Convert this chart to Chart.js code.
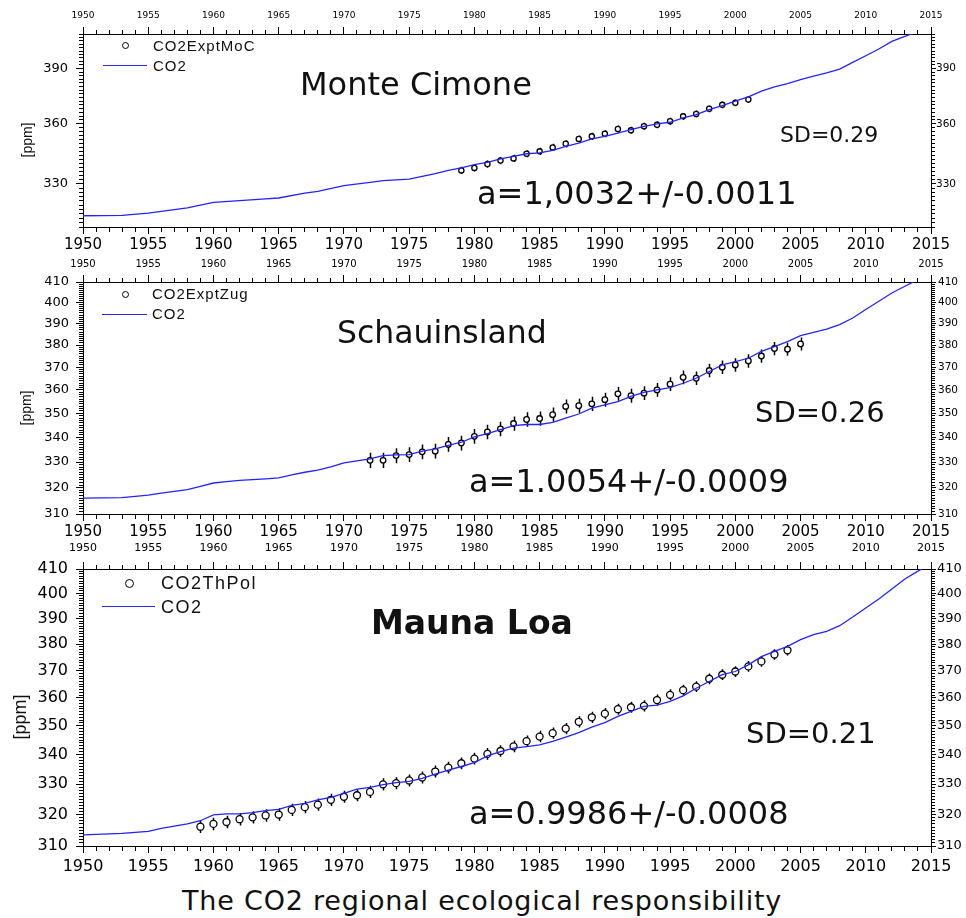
<!DOCTYPE html>
<html lang="en">
<head>
<meta charset="UTF-8">
<title>The CO2 regional ecological responsibility</title>
<script src="https://cdn.jsdelivr.net/npm/chart.js"></script>
<style>
  body { margin: 0; background: #fff; }
  #page { position: relative; width: 966px; height: 918px; background: #fff; overflow: hidden; }
  .panel { position: absolute; left: 0; width: 966px; }
  .txt { position: absolute; white-space: nowrap; font-family: 'DejaVu Sans', sans-serif; color: #111; }
  .leg { position: absolute; white-space: nowrap; font-family: 'Liberation Sans', Arial, sans-serif; color: #111; }
  .dot { position: absolute; border: 1.3px solid #000; border-radius: 50%; background: #fff; box-sizing: border-box; }
  .lline { position: absolute; height: 0; border-top: 1.5px solid #2a2aff; }
  .ylab { position: absolute; white-space: nowrap; font-family: 'Liberation Sans', Arial, sans-serif; color: #111;
          transform: translate(-50%, -50%) rotate(-90deg); }
</style>
</head>
<body>
<div id="page">
  <div class="panel" style="top:0;height:256px"><canvas id="moc"></canvas></div>
  <div class="panel" style="top:256px;height:286px"><canvas id="sch"></canvas></div>
  <div class="panel" style="top:542px;height:340px"><canvas id="mlo"></canvas></div>

  <!-- Monte Cimone -->
  <div class="ylab" style="left:27px;top:140px;font-size:14px">[ppm]</div>
  <div class="dot" style="left:121.5px;top:42px;width:7px;height:7px"></div>
  <div class="leg" style="left:153px;top:35.5px;font-size:15px;line-height:20px;letter-spacing:1px">CO2ExptMoC</div>
  <div class="lline" style="left:103px;top:65px;width:44px"></div>
  <div class="leg" style="left:153px;top:55.5px;font-size:15px;line-height:20px;letter-spacing:1px">CO2</div>
  <div class="txt" style="left:300px;top:64px;font-size:32px;line-height:40px">Monte Cimone</div>
  <div class="txt" style="left:780px;top:121px;font-size:22px;line-height:28px">SD=0.29</div>
  <div class="txt" style="left:477px;top:173px;font-size:32px;line-height:40px">a=1,0032+/-0.0011</div>

  <!-- Schauinsland -->
  <div class="ylab" style="left:26px;top:408px;font-size:14px">[ppm]</div>
  <div class="dot" style="left:121.5px;top:290.5px;width:7px;height:7px"></div>
  <div class="leg" style="left:152px;top:284px;font-size:15px;line-height:20px;letter-spacing:1px">CO2ExptZug</div>
  <div class="lline" style="left:102px;top:313.5px;width:45px"></div>
  <div class="leg" style="left:152px;top:304px;font-size:15px;line-height:20px;letter-spacing:1px">CO2</div>
  <div class="txt" style="left:337px;top:312px;font-size:31.5px;line-height:40px">Schauinsland</div>
  <div class="txt" style="left:755px;top:394px;font-size:29px;line-height:36px">SD=0.26</div>
  <div class="txt" style="left:469px;top:461px;font-size:32px;line-height:40px">a=1.0054+/-0.0009</div>

  <!-- Mauna Loa -->
  <div class="ylab" style="left:20px;top:717px;font-size:18px">[ppm]</div>
  <div class="dot" style="left:124.5px;top:578.5px;width:9px;height:9px"></div>
  <div class="leg" style="left:161px;top:571px;font-size:18px;line-height:24px;letter-spacing:1.5px">CO2ThPol</div>
  <div class="lline" style="left:102px;top:606px;width:53px"></div>
  <div class="leg" style="left:161px;top:595px;font-size:18px;line-height:24px;letter-spacing:1.5px">CO2</div>
  <div class="txt" style="left:371px;top:602px;font-size:33px;line-height:42px;font-weight:bold">Mauna Loa</div>
  <div class="txt" style="left:746px;top:715px;font-size:29px;line-height:36px">SD=0.21</div>
  <div class="txt" style="left:469px;top:793px;font-size:32px;line-height:40px">a=0.9986+/-0.0008</div>

  <div class="txt" style="left:182px;top:884px;font-size:27px;line-height:34px;letter-spacing:0.8px">The CO2 regional ecological responsibility</div>
</div>

<script>
    // Axis labels
    const yearLabels = [1950, 1955, 1960, 1965, 1970, 1975, 1980, 1985, 1990, 1995, 2000, 2005, 2010, 2015];
    const ppmLabelsMoC = [330, 360, 390];
    const ppmLabels = [310, 320, 330, 340, 350, 360, 370, 380, 390, 400, 410];

    // Monte Cimone
    const mocYears = [1979, 1980, 1981, 1982, 1983, 1984, 1985, 1986, 1987, 1988, 1989, 1990,
                      1991, 1992, 1993, 1994, 1995, 1996, 1997, 1998, 1999, 2000, 2001];
    const mocObs = [336.5, 337.7, 339.6, 341.3, 342.4, 344.7, 345.9, 347.9, 349.7, 352.2, 353.5, 354.9,
                    357.3, 356.6, 358.7, 359.5, 361.3, 363.9, 365.2, 367.9, 370.0, 371.1, 372.9];
    const mocLineYears = [1950, 1953, 1955, 1957, 1958, 1960, 1962, 1964, 1965, 1967, 1968, 1970, 1972, 1973,
                          1975, 1976, 1977, 1978, 1979, 1980, 1981, 1982, 1983, 1984, 1985, 1986, 1987, 1988,
                          1989, 1990, 1991, 1992, 1993, 1994, 1995, 1996, 1997, 1998, 1999, 2000, 2001, 2002,
                          2003, 2004, 2005, 2006, 2007, 2008, 2009, 2010, 2011, 2012, 2013, 2014];
    const mocModel = [315.1, 315.3, 316.3, 317.9, 318.7, 321.3, 322.1, 322.9, 323.3, 325.6, 326.4, 329.1, 330.7, 331.5,
                      332.3, 333.6, 334.9, 336.5, 337.7, 339.3, 340.4, 342.1, 343.4, 344.7, 345.1, 346.4, 348.4, 350.1,
                      352.2, 353.5, 355.2, 357.0, 358.7, 359.9, 360.8, 363.1, 364.8, 367.5, 369.6, 372.0, 374.3, 377.4,
                      379.8, 381.6, 383.8, 385.7, 387.5, 389.7, 393.5, 397.3, 401.2, 405.6, 408.6, 411.5];

    // Schauinsland
    const schYears = [1972, 1973, 1974, 1975, 1976, 1977, 1978, 1979, 1980, 1981, 1982, 1983, 1984, 1985, 1986,
                      1987, 1988, 1989, 1990, 1991, 1992, 1993, 1994, 1995, 1996, 1997, 1998, 1999, 2000, 2001,
                      2002, 2003, 2004, 2005];
    const schObs = [330.7, 330.7, 332.6, 333.0, 334.1, 334.4, 337.1, 337.7, 340.4, 342.2, 343.5, 345.7, 347.4, 347.8, 349.4,
                    352.9, 353.2, 354.0, 355.8, 358.3, 357.5, 358.6, 360.0, 362.5, 365.5, 365.1, 368.5, 370.0, 371.0, 372.8,
                    375.0, 378.4, 378.1, 380.5];
    const schLineYears = [1950, 1953, 1955, 1956, 1957, 1958, 1959, 1960, 1961, 1962, 1963, 1964, 1965, 1966, 1967,
                          1968, 1969, 1970, 1971, 1972, 1973, 1974, 1975, 1976, 1977, 1978, 1979, 1980, 1981, 1982,
                          1983, 1984, 1985, 1986, 1987, 1988, 1989, 1990, 1991, 1992, 1993, 1994, 1995, 1996, 1997,
                          1998, 1999, 2000, 2001, 2002, 2003, 2004, 2005, 2006, 2007, 2008, 2009, 2010, 2011, 2012,
                          2013, 2014];
    const schModel = [316.0, 316.2, 317.1, 317.9, 318.6, 319.2, 320.5, 321.8, 322.3, 322.8, 323.1, 323.4, 323.8, 325.0, 326.0,
                      326.8, 328.1, 329.7, 330.5, 331.3, 332.6, 332.9, 333.0, 334.4, 335.3, 336.7, 338.0, 340.2, 341.5, 343.2,
                      344.8, 345.3, 345.3, 346.2, 348.0, 349.7, 352.2, 353.6, 355.0, 357.2, 358.9, 360.0, 361.0, 362.9, 365.1,
                      368.1, 371.0, 372.5, 374.0, 377.1, 379.3, 381.6, 384.3, 385.8, 387.4, 389.5, 392.6, 396.6, 400.6, 404.6,
                      407.9, 411.2];

    // Mauna Loa
    const mloYears = [1959, 1960, 1961, 1962, 1963, 1964, 1965, 1966, 1967, 1968, 1969, 1970, 1971, 1972, 1973,
                      1974, 1975, 1976, 1977, 1978, 1979, 1980, 1981, 1982, 1983, 1984, 1985, 1986, 1987, 1988,
                      1989, 1990, 1991, 1992, 1993, 1994, 1995, 1996, 1997, 1998, 1999, 2000, 2001, 2002, 2003, 2004];
    const mloObs = [316.1, 317.0, 317.6, 318.5, 319.1, 319.7, 320.0, 321.5, 322.4, 323.2, 324.8, 325.8, 326.3, 327.4, 329.9,
                    330.3, 331.2, 332.2, 334.2, 335.5, 337.0, 338.6, 340.2, 341.2, 342.8, 344.6, 346.2, 347.4, 349.0, 351.4,
                    353.0, 354.3, 355.9, 356.6, 357.1, 359.2, 361.1, 362.8, 364.1, 367.0, 368.5, 369.7, 371.6, 373.5, 376.1, 377.7];
    const mloLineYears = [1950, 1953, 1955, 1956, 1957, 1958, 1959, 1960, 1961, 1962, 1963, 1964, 1965, 1966, 1967,
                          1968, 1969, 1970, 1971, 1972, 1973, 1974, 1975, 1976, 1977, 1978, 1979, 1980, 1981, 1982,
                          1983, 1984, 1985, 1986, 1987, 1988, 1989, 1990, 1991, 1992, 1993, 1994, 1995, 1996, 1997,
                          1998, 1999, 2000, 2001, 2002, 2003, 2004, 2005, 2006, 2007, 2008, 2009, 2010, 2011, 2012,
                          2013, 2014, 2015];
    const mloModel = [313.5, 314.0, 314.6, 315.6, 316.3, 317.0, 318.0, 319.9, 320.2, 320.2, 320.6, 321.3, 321.7, 323.0, 323.6,
                      324.8, 325.6, 326.9, 328.3, 328.9, 329.8, 330.5, 330.9, 331.9, 333.3, 334.7, 335.9, 337.2, 339.5, 341.0,
                      342.2, 342.7, 343.3, 344.5, 346.0, 347.6, 349.5, 351.1, 353.3, 355.1, 356.9, 357.4, 358.7, 360.7, 363.5,
                      366.0, 368.5, 369.7, 372.2, 375.3, 377.3, 379.2, 381.8, 383.7, 385.0, 387.2, 390.6, 394.2, 397.8, 401.8,
                      405.9, 409.1, 412.5];

    const BLUE = '#2323ff';
    Chart.defaults.font.family = "'DejaVu Sans', sans-serif";

    // vertical error stubs under the open circles
    const errorBars = {
        id: 'errorBars',
        beforeDatasetsDraw(chart, args, opts) {
            const { ctx, chartArea, scales: { x, y } } = chart;
            const pts = chart.data.datasets[1].data;
            ctx.save();
            ctx.beginPath();
            ctx.rect(chartArea.left, chartArea.top, chartArea.width, chartArea.height);
            ctx.clip();
            ctx.strokeStyle = '#000';
            ctx.lineWidth = 1.5;
            ctx.beginPath();
            pts.forEach(p => {
                const px = Math.round(x.getPixelForValue(p.x)) + 0.5;
                ctx.moveTo(px, y.getPixelForValue(p.y - opts.err));
                ctx.lineTo(px, y.getPixelForValue(p.y + opts.err));
            });
            ctx.stroke();
            ctx.restore();
        }
    };

    // minor ticks: dash so only the part next to the axis line is drawn
    function minorDash(outerFirst, tl, m) {
        return outerFirst ? [0, tl - m, m, 100] : [m, 100];
    }

    function xAxis(position, h, size, pad, tl, m) {
        const outerFirst = position === 'top';
        return {
            type: 'linear', position: position, min: 1950, max: 2015, offset: false,
            afterBuildTicks: s => {
                const t = [];
                for (let v = 1950; v <= 2015; v++) t.push({ value: v });
                s.ticks = t;
            },
            afterFit: s => { s.height = h; },
            ticks: {
                autoSkip: false, maxRotation: 0, minRotation: 0, padding: pad, color: '#000',
                font: { size: size },
                callback: v => yearLabels.includes(v) ? String(v) : ''
            },
            grid: {
                drawOnChartArea: false, tickLength: tl, tickColor: '#000', tickWidth: 1,
                tickBorderDash: c => (c.tick && yearLabels.includes(c.tick.value)) ? [] : minorDash(outerFirst, tl, m)
            },
            border: { display: true, color: '#000', width: 1 }
        };
    }

    function yAxis(position, w, size, pad, tl, m, labels, step) {
        const outerFirst = position === 'left';
        return {
            type: 'logarithmic', position: position, min: 310, max: 410,
            afterBuildTicks: s => {
                const t = [];
                for (let v = 310; v <= 410; v += step) t.push({ value: v });
                s.ticks = t;
            },
            afterFit: s => { s.width = w; },
            ticks: {
                autoSkip: false, padding: pad, color: '#000', font: { size: size },
                callback: v => labels.includes(v) ? String(v) : ''
            },
            grid: {
                drawOnChartArea: false, tickLength: tl, tickColor: '#000', tickWidth: 1,
                tickBorderDash: c => (c.tick && labels.includes(c.tick.value)) ? [] : minorDash(outerFirst, tl, m)
            },
            border: { display: true, color: '#000', width: 1 }
        };
    }

    function makePanel(id, p) {
        new Chart(document.getElementById(id), {
            type: 'scatter',
            data: {
                datasets: [{
                    label: 'CO2',
                    data: p.lineYears.map((yr, i) => ({ x: yr, y: p.model[i] })),
                    showLine: true,
                    borderColor: BLUE,
                    borderWidth: 1.3,
                    pointRadius: 0,
                    tension: 0
                }, {
                    label: p.label,
                    data: p.years.map((yr, i) => ({ x: yr, y: p.obs[i] })),
                    showLine: false,
                    pointRadius: p.radius,
                    pointBorderWidth: 1.3,
                    borderColor: '#000',
                    backgroundColor: '#fff'
                }]
            },
            options: {
                responsive: true,
                maintainAspectRatio: false,
                animation: false,
                layout: { padding: 0 },
                plugins: {
                    legend: { display: false },
                    tooltip: { enabled: false },
                    errorBars: { err: p.err }
                },
                scales: {
                    x: xAxis('bottom', p.botH, p.botFont, p.botPad, 7, 4),
                    x2: xAxis('top', p.topH, p.topFont, p.topPad, 7, 4),
                    y: yAxis('left', 83, p.leftFont, p.leftPad, 7, 4, p.yLabels, p.yStep),
                    y2: yAxis('right', 35, p.rightFont, p.rightPad, 5, 3, p.yLabels, p.yStep)
                }
            },
            plugins: [errorBars]
        });
    }

    makePanel('moc', {
        label: 'CO2ExptMoC', years: mocYears, obs: mocObs, lineYears: mocLineYears, model: mocModel,
        radius: 2.6, err: 1.8, yLabels: ppmLabelsMoC, yStep: 2,
        topH: 34, botH: 29, topFont: 9, topPad: 6, botFont: 15, botPad: 2,
        leftFont: 13, leftPad: 8, rightFont: 10.5, rightPad: 0
    });

    makePanel('sch', {
        label: 'CO2ExptZug', years: schYears, obs: schObs, lineYears: schLineYears, model: schModel,
        radius: 2.8, err: 3, yLabels: ppmLabels, yStep: 1,
        topH: 26, botH: 28, topFont: 10, topPad: 5, botFont: 15, botPad: 2,
        leftFont: 13, leftPad: 7, rightFont: 10.5, rightPad: 2
    });

    makePanel('mlo', {
        label: 'CO2ThPol', years: mloYears, obs: mloObs, lineYears: mloLineYears, model: mloModel,
        radius: 3.5, err: 2, yLabels: ppmLabels, yStep: 1,
        topH: 27, botH: 36, topFont: 11, topPad: 7, botFont: 16, botPad: 4,
        leftFont: 16, leftPad: 8, rightFont: 13, rightPad: 1
    });
</script>
</body>
</html>
